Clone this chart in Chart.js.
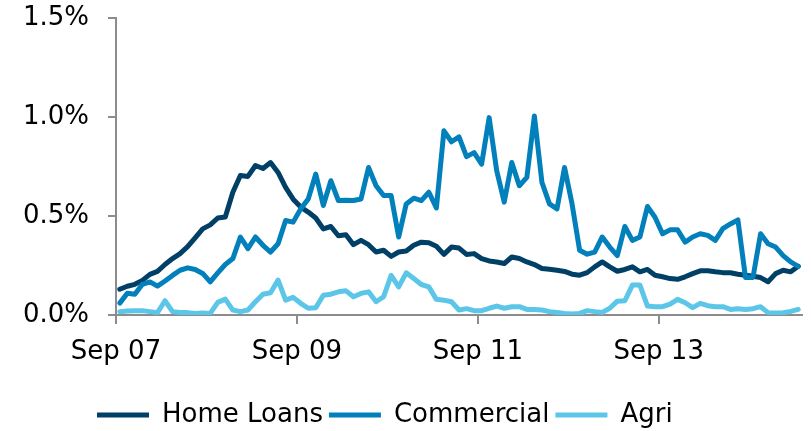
<!DOCTYPE html>
<html>
<head>
<meta charset="utf-8">
<script src="https://cdn.jsdelivr.net/npm/chart.js@4.4.1/dist/chart.umd.min.js"></script>
<style>
    html, body { margin: 0; padding: 0; background: #fff; }
    #wrap { width: 811px; height: 431px; position: relative; }
</style>
</head>
<body>
<div id="wrap"><canvas id="chart"></canvas></div>
<script>
// monthly, Sep 07 .. Mar 15
const months = [
    'Sep 07', 'Oct 07', 'Nov 07', 'Dec 07',
    'Jan 08', 'Feb 08', 'Mar 08', 'Apr 08', 'May 08', 'Jun 08', 'Jul 08', 'Aug 08', 'Sep 08', 'Oct 08', 'Nov 08', 'Dec 08',
    'Jan 09', 'Feb 09', 'Mar 09', 'Apr 09', 'May 09', 'Jun 09', 'Jul 09', 'Aug 09', 'Sep 09', 'Oct 09', 'Nov 09', 'Dec 09',
    'Jan 10', 'Feb 10', 'Mar 10', 'Apr 10', 'May 10', 'Jun 10', 'Jul 10', 'Aug 10', 'Sep 10', 'Oct 10', 'Nov 10', 'Dec 10',
    'Jan 11', 'Feb 11', 'Mar 11', 'Apr 11', 'May 11', 'Jun 11', 'Jul 11', 'Aug 11', 'Sep 11', 'Oct 11', 'Nov 11', 'Dec 11',
    'Jan 12', 'Feb 12', 'Mar 12', 'Apr 12', 'May 12', 'Jun 12', 'Jul 12', 'Aug 12', 'Sep 12', 'Oct 12', 'Nov 12', 'Dec 12',
    'Jan 13', 'Feb 13', 'Mar 13', 'Apr 13', 'May 13', 'Jun 13', 'Jul 13', 'Aug 13', 'Sep 13', 'Oct 13', 'Nov 13', 'Dec 13',
    'Jan 14', 'Feb 14', 'Mar 14', 'Apr 14', 'May 14', 'Jun 14', 'Jul 14', 'Aug 14', 'Sep 14', 'Oct 14', 'Nov 14', 'Dec 14',
    'Jan 15', 'Feb 15', 'Mar 15'
];

const homeLoans = [
    0.13, 0.145, 0.155, 0.175,
    0.205, 0.22, 0.255, 0.285, 0.31, 0.345, 0.39, 0.435, 0.455, 0.49, 0.495, 0.62,
    0.705, 0.70, 0.755, 0.74, 0.77, 0.72, 0.645, 0.585, 0.545, 0.52, 0.49, 0.435,
    0.447, 0.40, 0.405, 0.355, 0.377, 0.355, 0.318, 0.327, 0.296, 0.318, 0.323, 0.352,
    0.368, 0.365, 0.347, 0.306, 0.343, 0.338, 0.306, 0.31, 0.285, 0.273, 0.268, 0.26,
    0.293, 0.285, 0.268, 0.255, 0.235, 0.231, 0.226, 0.22, 0.206, 0.201, 0.214, 0.243,
    0.268, 0.243, 0.221, 0.23, 0.243, 0.218, 0.23, 0.201, 0.193, 0.184, 0.18, 0.193,
    0.209, 0.223, 0.223, 0.218, 0.214, 0.213, 0.206, 0.201, 0.196, 0.189, 0.168, 0.209,
    0.226, 0.218, 0.246
];

const commercial = [
    0.06, 0.11, 0.105, 0.155,
    0.167, 0.146, 0.172, 0.20, 0.226, 0.238, 0.23, 0.21, 0.167, 0.213, 0.255, 0.285,
    0.394, 0.335, 0.394, 0.352, 0.318, 0.36, 0.477, 0.469, 0.536, 0.586, 0.712, 0.553,
    0.678, 0.578, 0.58, 0.578, 0.586, 0.745, 0.653, 0.603, 0.603, 0.394, 0.561, 0.59,
    0.578, 0.62, 0.541, 0.93, 0.875, 0.90, 0.80, 0.82, 0.762, 0.997, 0.729, 0.57,
    0.77, 0.653, 0.695, 1.005, 0.67, 0.561, 0.536, 0.745, 0.56, 0.327, 0.307, 0.318,
    0.394, 0.343, 0.30, 0.447, 0.377, 0.394, 0.548, 0.494, 0.41, 0.43, 0.43, 0.368,
    0.394, 0.41, 0.402, 0.377, 0.436, 0.46, 0.48, 0.19, 0.19, 0.41, 0.36, 0.343,
    0.30, 0.268, 0.246
];

const agri = [
    0.017, 0.02, 0.022, 0.022,
    0.017, 0.012, 0.072, 0.017, 0.013, 0.012, 0.008, 0.01, 0.008, 0.064, 0.08, 0.025,
    0.017, 0.025, 0.067, 0.105, 0.112, 0.176, 0.075, 0.089, 0.059, 0.034, 0.037, 0.10,
    0.105, 0.117, 0.122, 0.092, 0.109, 0.117, 0.067, 0.092, 0.20, 0.142, 0.213, 0.184,
    0.154, 0.142, 0.079, 0.075, 0.067, 0.025, 0.032, 0.022, 0.022, 0.034, 0.045, 0.034,
    0.042, 0.042, 0.028, 0.028, 0.025, 0.017, 0.013, 0.008, 0.005, 0.008, 0.022, 0.017,
    0.013, 0.034, 0.07, 0.072, 0.151, 0.151, 0.045, 0.042, 0.042, 0.055, 0.079, 0.062,
    0.037, 0.059, 0.047, 0.042, 0.042, 0.028, 0.032, 0.028, 0.032, 0.042, 0.012, 0.01,
    0.012, 0.018, 0.028
];

// axis ticks sit on the boundary before each labelled month
const tickLabels = ['Sep 07', 'Sep 09', 'Sep 11', 'Sep 13'];
const yTicks = [0, 0.5, 1.0, 1.5];

const axisGrey = '#8c8c8c';
const font = { family: 'DejaVu Sans', size: 26 };
const plotBottom = 315;

function toPoints(values) {
    return values.map(function(v, i) { return { x: i, y: v }; });
}

function line(label, values, color, order) {
    return {
        label: label,
        data: toPoints(values),
        borderColor: color,
        backgroundColor: color,
        borderWidth: 5,
        borderCapStyle: 'round',
        borderJoinStyle: 'round',
        pointRadius: 0,
        tension: 0,
        order: order
    };
}

// place the legend row where the original has it
const legendPlace = {
    id: 'legendPlace',
    afterLayout: function(chart) {
        let lg = chart.legend;
        let h = lg.bottom - lg.top;
        let w = lg.right - lg.left;
        lg.top = 415 - 6 - 13;
        lg.bottom = lg.top + h;
        lg.left = 91;
        lg.right = lg.left + w;
    }
};

new Chart(document.getElementById('chart'), {
    type: 'line',
    data: {
        datasets: [
            line('Home Loans', homeLoans, '#003f66', 3),
            line('Commercial', commercial, '#0280bc', 2),
            line('Agri', agri, '#5bc6e8', 1)
        ]
    },
    options: {
        responsive: true,
        maintainAspectRatio: false,
        animation: false,
        layout: { padding: { top: 18, right: 9, left: 0, bottom: 0 } },
        plugins: {
            tooltip: { enabled: false },
            legend: {
                position: 'bottom',
                align: 'start',
                labels: {
                    usePointStyle: true,
                    pointStyle: 'line',
                    pointStyleWidth: 52,
                    padding: 6,
                    color: '#000',
                    font: font,
                    sort: function(a, b) { return a.datasetIndex - b.datasetIndex; }
                }
            }
        },
        scales: {
            x: {
                type: 'linear',
                min: -0.5,
                max: months.length - 0.5,
                afterBuildTicks: function(scale) {
                    scale.ticks = tickLabels.map(function(l) {
                        return { value: months.indexOf(l) - 0.5 };
                    });
                },
                afterFit: function(scale) {
                    scale.height = scale.chart.height - scale.chart.legend.height - plotBottom;
                },
                border: { color: axisGrey, width: 2 },
                grid: { drawOnChartArea: false, tickLength: 9, color: axisGrey, lineWidth: 2 },
                ticks: {
                    autoSkip: false,
                    maxRotation: 0,
                    padding: 13,
                    color: '#000',
                    font: font,
                    callback: function(value, index) { return tickLabels[index]; }
                }
            },
            y: {
                min: 0,
                max: 1.5,
                afterBuildTicks: function(scale) {
                    scale.ticks = yTicks.map(function(v) { return { value: v }; });
                },
                afterFit: function(scale) {
                    scale.width = 116;
                    // label padding should not eat into the plot height
                    scale.paddingTop = 0;
                    scale.paddingBottom = 0;
                },
                border: { color: axisGrey, width: 2 },
                grid: { drawOnChartArea: false, tickLength: 8, color: axisGrey, lineWidth: 2 },
                ticks: {
                    padding: 19,
                    color: '#000',
                    font: font,
                    callback: function(value) { return value.toFixed(1) + '%'; }
                }
            }
        }
    },
    plugins: [legendPlace]
});
</script>
</body>
</html>
